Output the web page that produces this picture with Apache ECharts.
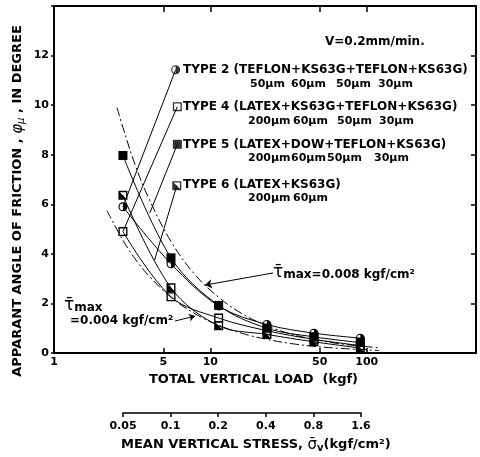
<!DOCTYPE html>
<html><head><meta charset="utf-8">
<script src="https://cdn.jsdelivr.net/npm/echarts@6/dist/echarts.min.js"></script>
<style>html,body{margin:0;padding:0;background:#fff}#c{width:480px;height:457px}</style>
</head><body><div id="c"></div>
<script>
// ---- data ----
const loads = [2.76, 5.6, 11.3, 23, 46, 91];            // total vertical load (kgf)
const stressTicks = ['0.05', '0.1', '0.2', '0.4', '0.8', '1.6'];
const loadTicks = [1, 5, 10, 50, 100];
const loadMinorTicks = [5, 10, 50, 100];
const type2 = [5.9, 3.6, 1.9, 1.15, 0.8, 0.6];
const type4 = [4.9, 2.27, 1.41, 0.9, 0.55, 0.3];
const type5 = [7.97, 3.84, 1.92, 1.0, 0.65, 0.42];
const type6 = [6.36, 2.63, 1.1, 0.75, 0.45, 0.2];
const tau008Loads = [2.53, 2.76, 3.3, 4, 5.6, 8, 11.3, 16, 23, 33, 46, 66, 91, 120];
const tau008Vals  = [9.9, 9.1, 7.6, 6.3, 4.5, 3.15, 2.25, 1.58, 1.1, 0.76, 0.55, 0.38, 0.28, 0.21];
const tau004Loads = [2.18, 2.76, 3.3, 4, 5.6, 8, 11.3, 16, 23, 33, 46, 66, 91, 120];
const tau004Vals  = [5.75, 4.55, 3.8, 3.15, 2.25, 1.58, 1.12, 0.79, 0.55, 0.38, 0.27, 0.19, 0.14, 0.1];
const keyLoads = [6.0, 6.15, 6.15, 6.1];
const keyVals  = [11.43, 9.94, 8.42, 6.75];
const leaderEndLoads = [2.76, 2.76, 4.1, 4.4];
const leaderEndVals  = [5.9, 4.9, 5.65, 3.75];
const arrow008 = [[25.2, 3.23], [9.24, 2.74]];
const arrow004 = [[5.94, 1.29], [7.98, 1.49]];

// ---- styling ----
const FONT = 'DejaVu Sans';
const SYM_HALFCIRCLE = 'path://M0,-10A10,10,0,1,1,0,10A10,10,0,1,1,0,-10ZM0,-7.5A7.5,7.5,0,1,0,0,7.5A7.5,7.5,0,1,0,0,-7.5ZM0,-8A8,8,0,0,1,0,8Z';
const SYM_OPENSQ = 'path://M-10,-10L10,-10L10,10L-10,10ZM-7,-7L-7,7L7,7L7,-7Z';
const SYM_HALFSQ = 'path://M-10,-10L10,-10L10,10L-10,10ZM-7,-7L-7,7L7,7L7,-7ZM-7,-7L7,7L-7,7Z';
const types = [
  {vals: type2, symbol: SYM_HALFCIRCLE},
  {vals: type4, symbol: SYM_OPENSQ},
  {vals: type5, symbol: 'rect'},
  {vals: type6, symbol: SYM_HALFSQ}
];
const pts = (xs, ys) => xs.map((x, i) => [x, ys[i]]);
const LBL = {fontFamily: FONT, fontWeight: 'bold', color: '#000'};
const BLACK = '#000';

const series = [];
// leader lines from the key markers
keyLoads.forEach((x, i) => {
  series.push({type: 'line', xAxisIndex: 0, yAxisIndex: 0, showSymbol: false, symbol: 'none',
    data: [[x, keyVals[i]], [leaderEndLoads[i], leaderEndVals[i]]],
    lineStyle: {color: BLACK, width: 1}, z: 2});
});
// theoretical curves
series.push({type: 'line', xAxisIndex: 0, yAxisIndex: 0, smooth: 0.4, showSymbol: false, symbol: 'none',
  data: pts(tau008Loads, tau008Vals), lineStyle: {color: BLACK, width: 1, type: [9, 3, 2, 3]}, z: 2,
  markLine: {silent: true, symbol: ['none', 'arrow'], symbolSize: 7, label: {show: false},
    lineStyle: {color: BLACK, width: 1, type: 'solid'},
    data: [[{coord: arrow008[0]}, {coord: arrow008[1]}]]}});
series.push({type: 'line', xAxisIndex: 0, yAxisIndex: 0, smooth: 0.4, showSymbol: false, symbol: 'none',
  data: pts(tau004Loads, tau004Vals), lineStyle: {color: BLACK, width: 1, type: [9, 3, 2, 3]}, z: 2,
  markLine: {silent: true, symbol: ['none', 'arrow'], symbolSize: 6, label: {show: false},
    lineStyle: {color: BLACK, width: 1, type: 'solid'},
    data: [[{coord: arrow004[0]}, {coord: arrow004[1]}]]}});
// measured series
types.forEach(t => {
  series.push({type: 'line', xAxisIndex: 0, yAxisIndex: 0, smooth: 0.35,
    data: pts(loads, t.vals), symbol: t.symbol, symbolSize: 9, showSymbol: true,
    itemStyle: {color: BLACK}, lineStyle: {color: BLACK, width: 1}, z: 3});
});
// key markers
series.push({type: 'scatter', xAxisIndex: 0, yAxisIndex: 0, symbolSize: 9, itemStyle: {color: BLACK}, z: 4,
  data: keyLoads.map((x, i) => ({value: [x, keyVals[i]], symbol: types[i].symbol}))});

// ---- text ----
function txt(x, y, text, size, extra) {
  return Object.assign({type: 'text', x: x, y: y, silent: true,
    style: Object.assign({text: text, fontFamily: FONT, fontWeight: 'bold', fontSize: size, fill: BLACK,
      align: 'left', verticalAlign: 'middle'}, (extra && extra.style) || {})},
    extra && extra.el ? extra.el : {});
}
const um = 'μm';
const graphics = [
  txt(325, 42, 'V=0.2mm/min.', 12),
  txt(183, 70, 'TYPE 2 (TEFLON+KS63G+TEFLON+KS63G)', 12),
  txt(250, 84, '50' + um, 11), txt(291, 84, '60' + um, 11), txt(336, 84, '50' + um, 11), txt(378, 84, '30' + um, 11),
  txt(183, 107, 'TYPE 4 (LATEX+KS63G+TEFLON+KS63G)', 12),
  txt(248, 121, '200' + um, 11), txt(293, 121, '60' + um, 11), txt(337, 121, '50' + um, 11), txt(379, 121, '30' + um, 11),
  txt(183, 145, 'TYPE 5 (LATEX+DOW+TEFLON+KS63G)', 12),
  txt(248, 158, '200' + um, 11), txt(291, 158, '60' + um, 11), txt(327, 158, '50' + um, 11), txt(374, 158, '30' + um, 11),
  txt(183, 185, 'TYPE 6 (LATEX+KS63G)', 12),
  txt(248, 198, '200' + um, 11), txt(293, 198, '60' + um, 11),
  txt(273, 273, '{t|τ̄}{m|max=0.008 kgf/cm²}', 12, {style: {rich: {
    t: {fontFamily: FONT, fontSize: 17, fill: BLACK}, m: {fontFamily: FONT, fontWeight: 'bold', fontSize: 12, fill: BLACK, padding: [4, 0, 0, 0]}}}}),
  txt(64, 306, '{t|τ̄}{m|max}', 12, {style: {rich: {
    t: {fontFamily: FONT, fontSize: 17, fill: BLACK}, m: {fontFamily: FONT, fontWeight: 'bold', fontSize: 12, fill: BLACK, padding: [4, 0, 0, 0]}}}}),
  txt(70, 321, '=0.004 kgf/cm²', 12),
  txt(149, 380, 'TOTAL VERTICAL LOAD  (kgf)', 13),
  txt(121, 445, '{a|MEAN VERTICAL STRESS, }{s|σ̄}{v|v}{a|(kgf/cm²)}', 13, {style: {rich: {
    a: {fontFamily: FONT, fontWeight: 'bold', fontSize: 13, fill: BLACK},
    s: {fontFamily: FONT, fontSize: 15, fill: BLACK},
    v: {fontFamily: FONT, fontWeight: 'bold', fontSize: 10, fill: BLACK, padding: [6, 0, 0, 0]}}}}),
  txt(18, 201, '{a|APPARANT ANGLE OF FRICTION , }{p|φ}{s|μ}{a| , IN DEGREE}', 13, {
    el: {rotation: Math.PI / 2},
    style: {align: 'center', rich: {
      a: {fontFamily: FONT, fontWeight: 'bold', fontSize: 13, fill: BLACK},
      p: {fontFamily: FONT, fontStyle: 'italic', fontSize: 15, fill: BLACK},
      s: {fontFamily: FONT, fontStyle: 'italic', fontSize: 10, fill: BLACK, padding: [6, 0, 0, 0]}}}})
];

const chart = echarts.init(document.getElementById('c'), null, {renderer: 'canvas'});
chart.setOption({
  animation: false,
  backgroundColor: '#fff',
  grid: [{left: 54, right: 4, top: 6, bottom: 104}, {left: 123, right: 119, top: 412, height: 1}],
  xAxis: [
    {type: 'log', gridIndex: 0, logBase: 10, min: 1, max: 500, position: 'bottom',
      axisLine: {show: true, onZero: false, lineStyle: {color: BLACK, width: 2}},
      axisTick: {show: true, inside: true, length: 5, customValues: loadMinorTicks, lineStyle: {color: BLACK, width: 1.5}},
      axisLabel: Object.assign({fontSize: 11, margin: 4, customValues: loadTicks, formatter: v => String(v)}, LBL),
      splitLine: {show: false}, minorTick: {show: false}, minorSplitLine: {show: false}},
    {type: 'category', gridIndex: 1, data: stressTicks, boundaryGap: false, position: 'bottom',
      axisLine: {show: true, onZero: false, lineStyle: {color: BLACK, width: 1.5}},
      axisTick: {show: true, length: 4, lineStyle: {color: BLACK, width: 1.5}},
      axisLabel: Object.assign({fontSize: 11, margin: 8, interval: 0}, LBL),
      splitLine: {show: false}},
    {type: 'log', gridIndex: 0, logBase: 10, min: 1, max: 500, position: 'top',
      axisLine: {show: true, onZero: false, lineStyle: {color: BLACK, width: 2}},
      axisTick: {show: true, inside: true, length: 6, customValues: loadMinorTicks, lineStyle: {color: BLACK, width: 1.5}},
      axisLabel: {show: false}, splitLine: {show: false}}
  ],
  yAxis: [
    {type: 'value', gridIndex: 0, min: 0, max: 14, interval: 2,
      axisLine: {show: true, onZero: false, lineStyle: {color: BLACK, width: 2}},
      axisTick: {show: true, length: 3, lineStyle: {color: BLACK, width: 1.5}},
      axisLabel: Object.assign({fontSize: 11, margin: 5, formatter: v => v === 14 ? '' : String(v)}, LBL),
      splitLine: {show: false}},
    {type: 'value', gridIndex: 0, min: 0, max: 14, interval: 2, position: 'right',
      axisLine: {show: true, onZero: false, lineStyle: {color: BLACK, width: 2}},
      axisTick: {show: true, inside: true, length: 5, lineStyle: {color: BLACK, width: 1.5}},
      axisLabel: {show: false}, splitLine: {show: false}},
    {type: 'value', gridIndex: 1, show: false}
  ],
  series: series,
  graphic: graphics
});
</script></body></html>
